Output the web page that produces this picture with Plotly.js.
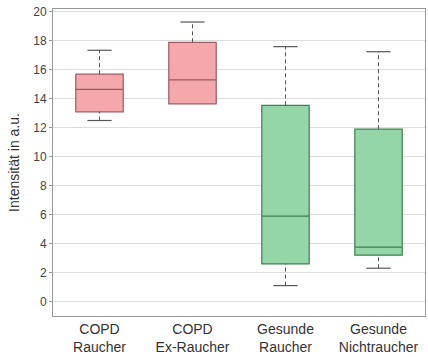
<!DOCTYPE html>
<html><head><meta charset="utf-8">
<script src="https://cdn.plot.ly/plotly-3.0.1.min.js"></script>
<style>html,body{margin:0;padding:0;background:#fff;}#chart{width:428px;height:357px;}</style>
</head><body><div id="chart"></div>
<script>
const categories = ["COPD<br>Raucher", "COPD<br>Ex-Raucher", "Gesunde<br>Raucher", "Gesunde<br>Nichtraucher"];
const lowerWhisker = [12.5, 13.65, 1.1, 2.3];
const q1 = [13.1, 13.65, 2.6, 3.2];
const median = [14.65, 15.3, 5.9, 3.75];
const q3 = [15.7, 17.9, 13.55, 11.9];
const upperWhisker = [17.35, 19.3, 17.6, 17.25];
const fillColors = ["#f5a8ab", "#f5a8ab", "#95d6a8", "#95d6a8"];
const lineColors = ["#9a5b5e", "#9a5b5e", "#3f7d52", "#3f7d52"];

const traces = [];
const capHalf = 0.13;
categories.forEach((c, i) => {
  traces.push({
    type: "box", x: [i], q1: [q1[i]], median: [median[i]], q3: [q3[i]],
    lowerfence: [q1[i]], upperfence: [q3[i]],
    width: 0.51, fillcolor: fillColors[i],
    line: {color: lineColors[i], width: 1.2},
    whiskerwidth: 0, boxpoints: false, hoverinfo: "skip", showlegend: false
  });
  traces.push({type: "scatter", mode: "lines", x: [i, i], y: [q3[i], upperWhisker[i]],
    line: {color: "#555", width: 1, dash: "4px,3px"}, showlegend: false, hoverinfo: "skip"});
  traces.push({type: "scatter", mode: "lines", x: [i, i], y: [lowerWhisker[i], q1[i]],
    line: {color: "#555", width: 1, dash: "4px,3px"}, showlegend: false, hoverinfo: "skip"});
  traces.push({type: "scatter", mode: "lines", x: [i - capHalf, i + capHalf], y: [upperWhisker[i], upperWhisker[i]],
    line: {color: "#555", width: 1.2}, showlegend: false, hoverinfo: "skip"});
  if (lowerWhisker[i] < q1[i]) {
    traces.push({type: "scatter", mode: "lines", x: [i - capHalf, i + capHalf], y: [lowerWhisker[i], lowerWhisker[i]],
      line: {color: "#555", width: 1.2}, showlegend: false, hoverinfo: "skip"});
  }
});

const layout = {
  width: 428, height: 357,
  margin: {l: 53, r: 3, t: 9, b: 41},
  paper_bgcolor: "#fff", plot_bgcolor: "#fff",
  font: {family: "Liberation Sans, Arial, sans-serif", color: "#333"},
  xaxis: {
    range: [-0.5, 3.5], tickvals: [0, 1, 2, 3], ticktext: categories,
    showgrid: false, zeroline: false, showline: true, mirror: true,
    linecolor: "#999", linewidth: 1, ticks: "", tickfont: {size: 14, color: "#333"}
  },
  yaxis: {
    range: [-1, 20.2], tickvals: [0,2,4,6,8,10,12,14,16,18,20],
    showgrid: true, gridcolor: "#dddddd", gridwidth: 1, zeroline: false,
    showline: true, mirror: true, linecolor: "#999", linewidth: 1,
    ticks: "outside", ticklen: 3, tickcolor: "#999",
    tickfont: {size: 12, color: "#444"},
    title: {text: "Intensität in a.u.", font: {size: 14, color: "#333"}, standoff: 10}
  }
};
Plotly.newPlot("chart", traces, layout, {displayModeBar: false, staticPlot: true});
</script></body></html>
